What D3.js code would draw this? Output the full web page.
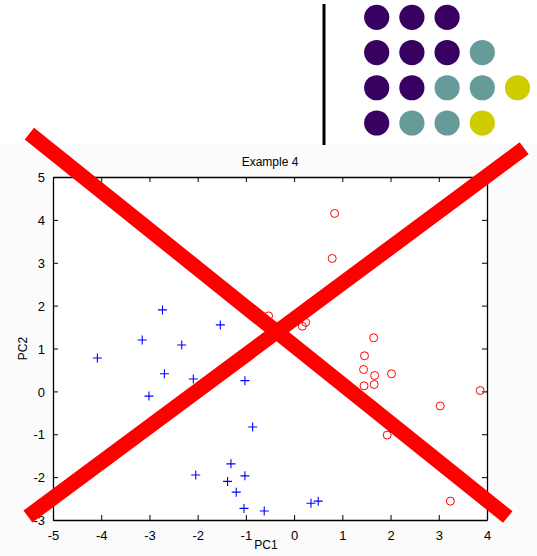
<!DOCTYPE html>
<html>
<head>
<meta charset="utf-8">
<script src="https://cdn.jsdelivr.net/npm/d3@7"></script>
<style>
  html, body { margin: 0; padding: 0; background: #ffffff; }
  svg { display: block; }
  text { font-family: "Liberation Sans", Arial, sans-serif; fill: #000; }
</style>
</head>
<body>
<svg id="chart" width="537" height="556"></svg>
<script>
// Class 1 (blue "+" markers): PC1 / PC2 scores
const class1PC1 = [-4.08, -2.73, -3.15, -2.33, -1.53, -2.69, -2.09, -3.01, -1.02, -0.86,
                   -1.31, -2.04, -1.02, -1.38, -1.20, -1.04, -0.62, 0.35, 0.50];
const class1PC2 = [0.78, 1.90, 1.20, 1.08, 1.55, 0.41, 0.29, -0.11, 0.25, -0.83,
                   -1.69, -1.95, -1.97, -2.10, -2.35, -2.73, -2.79, -2.61, -2.56];

// Class 2 (red "o" markers)
const class2PC1 = [0.84, 0.79, -0.53, 0.17, 0.24, 1.65, 1.46, 1.44, 1.67, 2.02,
                   1.45, 1.66, 3.86, 3.03, 1.93, 3.24];
const class2PC2 = [4.15, 3.10, 1.76, 1.52, 1.61, 1.25, 0.83, 0.51, 0.37, 0.41,
                   0.13, 0.16, 0.02, -0.34, -1.02, -2.56];

// Axis ticks
const xTicks = [-5, -4, -3, -2, -1, 0, 1, 2, 3, 4];
const yTicks = [-3, -2, -1, 0, 1, 2, 3, 4, 5];

// Crossing strokes over the plot, in PC units [x1, y1, x2, y2]
const crossStrokeA = [-5.49, 6.01, 4.43, -2.93];
const crossStrokeB = [-5.52, -2.92, 4.77, 5.67];

// Dot badge: one row per line, letters pick the colour
const badgeRows = [["P", "P", "P"], ["P", "P", "P", "T"], ["P", "P", "T", "T", "Y"], ["P", "T", "T", "Y"]];
const badgeColors = { P: "#370061", T: "#679b9a", Y: "#cfcc00" };

const svg = d3.select("#chart");

// ---- badge at the top ----
svg.append("rect").attr("x", 0).attr("y", 0).attr("width", 537).attr("height", 145).attr("fill", "#ffffff");
svg.append("line")
  .attr("x1", 324).attr("x2", 324).attr("y1", 4).attr("y2", 145)
  .attr("stroke", "#000").attr("stroke-width", 3);

const colPos = d3.scaleLinear().domain([0, 4]).range([376.7, 517.5]);
const rowPos = d3.scaleLinear().domain([0, 3]).range([17.3, 123]);
const badge = svg.append("g");
badgeRows.forEach((row, r) => {
  badge.selectAll(null).data(row).enter().append("circle")
    .attr("cx", (d, i) => colPos(i))
    .attr("cy", rowPos(r))
    .attr("r", 12.6)
    .attr("fill", d => badgeColors[d]);
});

// ---- figure background ----
svg.append("rect").attr("x", 0).attr("y", 145).attr("width", 537).attr("height", 411).attr("fill", "#fbfbfb");

// ---- scatter axes ----
const plotL = 53, plotR = 487, plotT = 177, plotB = 520;
const x = d3.scaleLinear().domain([-5, 4]).range([plotL, plotR]);
const y = d3.scaleLinear().domain([-3, 5]).range([plotB, plotT]);

svg.append("rect")
  .attr("x", plotL).attr("y", plotT).attr("width", plotR - plotL).attr("height", plotB - plotT)
  .attr("fill", "#ffffff");

// plain hyphen-minus labels
const plainFmt = d => String(d);
const tickLen = 5;
const axisBottom = svg.append("g").attr("transform", `translate(0,${plotB})`)
  .call(d3.axisBottom(x).tickValues(xTicks).tickSizeInner(-tickLen).tickSizeOuter(0).tickPadding(8).tickFormat(plainFmt));
const axisTop = svg.append("g").attr("transform", `translate(0,${plotT})`)
  .call(d3.axisTop(x).tickValues(xTicks).tickSizeInner(-tickLen).tickSizeOuter(0).tickFormat(""));
const axisLeft = svg.append("g").attr("transform", `translate(${plotL},0)`)
  .call(d3.axisLeft(y).tickValues(yTicks).tickSizeInner(-tickLen).tickSizeOuter(0).tickPadding(8).tickFormat(plainFmt));
const axisRight = svg.append("g").attr("transform", `translate(${plotR},0)`)
  .call(d3.axisRight(y).tickValues(yTicks).tickSizeInner(-tickLen).tickSizeOuter(0).tickFormat(""));

[axisBottom, axisTop, axisLeft, axisRight].forEach(g => {
  g.select(".domain").attr("stroke", "#000").attr("stroke-width", 1.3);
  g.selectAll(".tick line").attr("stroke", "#000");
  g.selectAll(".tick text").attr("font-size", 13).attr("font-family", "'Liberation Sans', Arial, sans-serif").attr("fill", "#000");
});
axisBottom.selectAll(".tick text").attr("dy", "0.95em");
axisLeft.selectAll(".tick text").attr("dy", "0.36em");

// ---- labels ----
svg.append("text").attr("x", (plotL + plotR) / 2).attr("y", 166)
  .attr("text-anchor", "middle").attr("font-size", 12).text("Example 4");
svg.append("text").attr("x", 266).attr("y", 549)
  .attr("text-anchor", "middle").attr("font-size", 12).text("PC1");
svg.append("text")
  .attr("transform", `translate(27,${(plotT + plotB) / 2}) rotate(-90)`)
  .attr("text-anchor", "middle").attr("font-size", 12).text("PC2");

// ---- data marks ----
const plus = svg.append("g");
const s = 4.5;
plus.selectAll("path").data(d3.range(class1PC1.length)).enter().append("path")
  .attr("d", i => {
    const cx = x(class1PC1[i]), cy = y(class1PC2[i]);
    return `M${cx - s},${cy}H${cx + s}M${cx},${cy - s}V${cy + s}`;
  })
  .attr("stroke", "#0000ff").attr("stroke-width", 1.1).attr("fill", "none");

svg.append("g").selectAll("circle").data(d3.range(class2PC1.length)).enter().append("circle")
  .attr("cx", i => x(class2PC1[i]))
  .attr("cy", i => y(class2PC2[i]))
  .attr("r", 4)
  .attr("stroke", "#ff0000").attr("stroke-width", 1).attr("fill", "none");

// ---- crossing strokes ----
svg.append("g").selectAll("line").data([crossStrokeA, crossStrokeB]).enter().append("line")
  .attr("x1", d => x(d[0])).attr("y1", d => y(d[1]))
  .attr("x2", d => x(d[2])).attr("y2", d => y(d[3]))
  .attr("stroke", "#ff0000").attr("stroke-width", 15).attr("stroke-linecap", "butt");
</script>
</body>
</html>
